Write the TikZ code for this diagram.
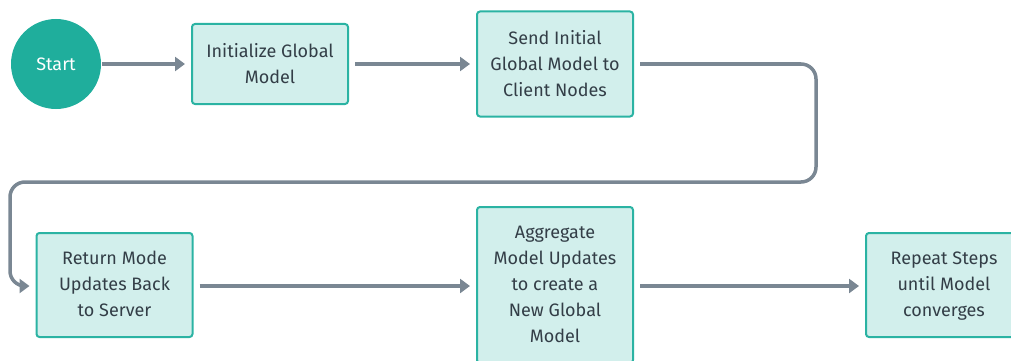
\documentclass[tikz,border=0pt]{standalone}
\usepackage{fontspec}
\setmainfont{Fira Sans}
\usetikzlibrary{arrows.meta}
\definecolor{tealdark}{HTML}{1FAE9C}
\definecolor{tealline}{HTML}{2BB3A3}
\definecolor{tealfill}{HTML}{D2EFEC}
\definecolor{flowgray}{HTML}{7A8793}
\definecolor{textgray}{HTML}{333E47}
\tikzset{
  stepbox/.style={draw=tealline, fill=tealfill, line width=2pt, rounded corners=3pt,
    minimum width=156pt, align=center, text=textgray,
    font=\fontsize{18}{26}\selectfont, inner sep=0pt, text depth=2pt},
  startnode/.style={circle, fill=tealdark, minimum size=90pt, inner sep=0pt,
    text=white, font=\fontsize{18}{26}\selectfont},
  flow/.style={draw=flowgray, line width=3.5pt, rounded corners=15pt,
    -{Triangle[length=10pt,width=14pt]}, shorten <=6pt, shorten >=6pt}
}
\begin{document}
\begin{tikzpicture}[x=1pt,y=-1pt]
  \useasboundingbox (0,0) rectangle (1011,361);
  \clip (0,0) rectangle (1011,361);
  % nodes
  \node[startnode] (start) at (56,64) {Start};
  \node[stepbox, minimum height=80pt] (init) at (270,64) {Initialize Global\\Model};
  \node[stepbox, minimum height=105pt] (send) at (555,64) {Send Initial\\Global Model to\\Client Nodes};
  \node[stepbox, minimum height=104pt] (ret) at (114.5,285) {Return Mode\\Updates Back\\to Server};
  \node[stepbox, minimum height=156pt] (agg) at (555,285) {Aggregate\\Model Updates\\to create a\\New Global\\Model};
  \node[stepbox, minimum height=104pt] (rep) at (944,285) {Repeat Steps\\until Model\\converges};
  % turning points of the return loop
  \coordinate (c1) at (816,64);
  \coordinate (c2) at (816,182);
  \coordinate (c3) at (10,182);
  \coordinate (c4) at (10,286);
  % connectors
  \draw[flow, shorten <=1pt] (start) -- (init);
  \draw[flow] (init) -- (send);
  \draw[flow] (send.east) -- (c1) -- (c2) -- (c3) -- (c4) -- (ret.west |- c4);
  \draw[flow] (ret.east |- c4) -- (agg.west |- c4);
  \draw[flow] (agg.east |- c4) -- (rep.west |- c4);
\end{tikzpicture}
\end{document}
